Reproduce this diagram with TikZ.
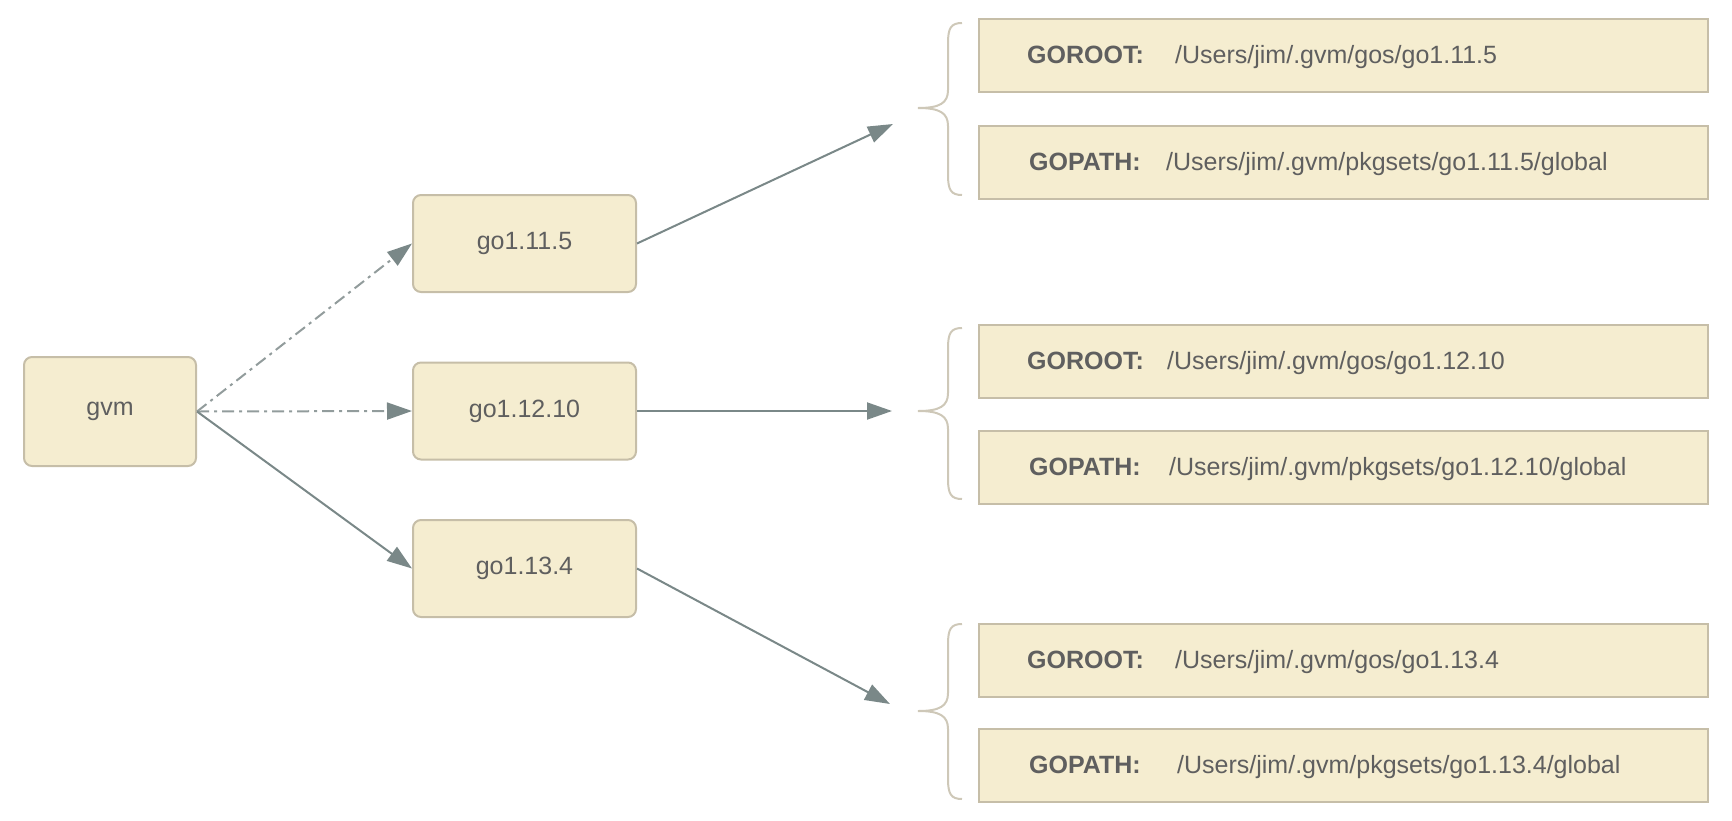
\documentclass[tikz,border=0pt]{standalone}
\usepackage{fontspec}
\setmainfont{Liberation Sans}
\usetikzlibrary{arrows.meta}

\definecolor{boxfill}{RGB}{245,237,208}
\definecolor{boxline}{RGB}{198,190,168}
\definecolor{txt}{RGB}{95,95,95}
\definecolor{wire}{RGB}{122,136,136}
\definecolor{wirelight}{RGB}{146,156,156}
\definecolor{bracecol}{RGB}{206,200,184}

\tikzset{
  ver/.style={draw=boxline, fill=boxfill, line width=2pt, rounded corners=8pt,
    minimum width=223pt, minimum height=97pt, text=txt,
    font=\fontsize{25pt}{30pt}\selectfont},
  env/.style={draw=boxline, fill=boxfill, line width=2pt,
    minimum width=729pt, minimum height=73pt},
  key/.style={anchor=base west, inner sep=0pt, text=txt,
    font=\fontsize{25pt}{30pt}\selectfont\bfseries},
  val/.style={anchor=base west, inner sep=0pt, text=txt,
    font=\fontsize{25pt}{30pt}\selectfont},
  link/.style={draw=wire, line width=2pt,
    -{Triangle[length=25pt,width=17pt,color=wire]}},
  linklight/.style={link, draw=wirelight, dash pattern=on 12pt off 5pt on 3pt off 5pt},
  brc/.style={draw=bracecol, line width=2pt}
}

\begin{document}
\begin{tikzpicture}[x=1pt,y=-1pt]
\useasboundingbox (0,0) rectangle (1732,820);

\node[ver, minimum width=172pt, minimum height=109pt] (gvm) at (110,411.5) {gvm};
\node[ver] (g115) at (524.5,243.5) {go1.11.5};
\node[ver] (g1210) at (524.5,411) {go1.12.10};
\node[ver] (g134) at (524.5,568.5) {go1.13.4};

% environment of each version
\node[env] (r1) at (1343.5,55.5) {};
\node[env] (p1) at (1343.5,162) {};
\node[env] (r2) at (1343.5,361.5) {};
\node[env] (p2) at (1343.5,467.5) {};
\node[env] (r3) at (1343.5,660.5) {};
\node[env] (p3) at (1343.5,765.5) {};

\node[key] (r1k) at (1027,63.5) {GOROOT:};
\node[val] (r1v) at (1175,63.5) {/Users/jim/.gvm/gos/go1.11.5};
\node[key] (p1k) at (1029,170) {GOPATH:};
\node[val] (p1v) at (1166,170) {/Users/jim/.gvm/pkgsets/go1.11.5/global};
\node[key] (r2k) at (1027,369.5) {GOROOT:};
\node[val] (r2v) at (1167,369.5) {/Users/jim/.gvm/gos/go1.12.10};
\node[key] (p2k) at (1029,475.5) {GOPATH:};
\node[val] (p2v) at (1169,475.5) {/Users/jim/.gvm/pkgsets/go1.12.10/global};
\node[key] (r3k) at (1027,668.5) {GOROOT:};
\node[val] (r3v) at (1175,668.5) {/Users/jim/.gvm/gos/go1.13.4};
\node[key] (p3k) at (1029,773.5) {GOPATH:};
\node[val] (p3v) at (1177,773.5) {/Users/jim/.gvm/pkgsets/go1.13.4/global};

% braces
\foreach \t/\m/\b in {23/108/195, 328/411/499, 624/711/799}
  \draw[brc] (962,\t) .. controls (951,\t) and (948,\t+5) .. (948,\t+20)
    -- (948,\m-18) .. controls (948,\m-5) and (940,\m) .. (918,\m)
    .. controls (940,\m) and (948,\m+5) .. (948,\m+18)
    -- (948,\b-20) .. controls (948,\b-5) and (951,\b) .. (962,\b);

\coordinate (e1) at (893,124);
\coordinate (e2) at (892,411);
\coordinate (e3) at (890,704);

\draw[linklight] (gvm.east) -- (g115.west);
\draw[linklight] (gvm.east) -- (g1210.west);
\draw[link] (gvm.east) -- (g134.west);
\draw[link] (g115.east) -- (e1);
\draw[link] (g1210.east) -- (e2);
\draw[link] (g134.east) -- (e3);
\end{tikzpicture}
\end{document}
